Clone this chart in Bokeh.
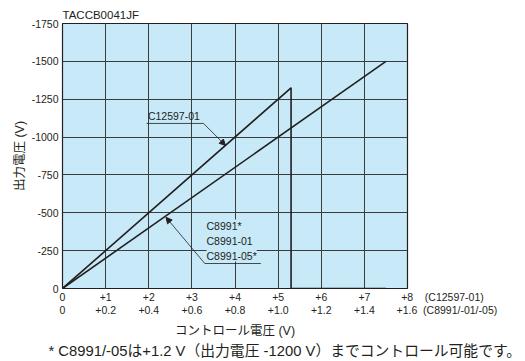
from bokeh.plotting import figure
from bokeh.models import Range1d, FixedTicker, Arrow, NormalHead, Title
from bokeh.core.properties import value
from bokeh.embed import file_html
from bokeh.resources import INLINE

# ---- data ----
c12597_x = [0, 5.3, 5.3, 7.5]
c12597_y = [0, -1325, 0, 0]
c8991_x = [0, 7.5]
c8991_y = [0, -1500]

x_ticks = [0, 1, 2, 3, 4, 5, 6, 7, 8]
x_labels_c12597 = ["0", "+1", "+2", "+3", "+4", "+5", "+6", "+7", "+8"]
x_labels_c8991 = ["0", "+0.2", "+0.4", "+0.6", "+0.8", "+1.0", "+1.2", "+1.4", "+1.6"]
x_row_names = ["(C12597-01)", "(C8991/-01/-05)"]
y_ticks = [0, -250, -500, -750, -1000, -1250, -1500, -1750]
y_labels = ["0", "-250", "-500", "-750", "-1000", "-1250", "-1500", "-1750"]

# annotation anchors (data coords)
c12597_label = "C12597-01"
c12597_label_xy = (1.98, -1100)
c12597_under_x = [1.95, 3.27]
c12597_under_y = [-1090, -1090]
c12597_tip = (3.78, -945)

c8991_label = "C8991*\nC8991-01\nC8991-05*"
c8991_label_xy = (3.34, -178)
c8991_under_x = [3.30, 4.60]
c8991_under_y = [-165, -165]
c8991_tip = (2.40, -470)

TXT = "#231f20"
BG = "#c7e9f8"
LATIN = "Liberation Sans"
MIXED = "'Liberation Sans', 'Noto Sans CJK JP'"
NB = "\u00a0"

p = figure(frame_width=345, frame_height=265,
           x_range=Range1d(0, 8), y_range=Range1d(0, -1750),
           output_backend="svg", toolbar_location=None,
           min_border_left=62, min_border_right=118,
           min_border_top=23, min_border_bottom=73)

p.background_fill_color = BG
p.border_fill_color = "white"
p.outline_line_color = "#231f20"
p.outline_line_width = 1.2

p.title.text = "TACCB0041JF"
p.title.text_font = LATIN
p.title.text_font_size = "11.5px"
p.title.text_font_style = "normal"
p.title.text_color = TXT
p.title.offset = 0
p.title.standoff = 5

# grid
p.xgrid.ticker = FixedTicker(ticks=x_ticks)
p.ygrid.ticker = FixedTicker(ticks=y_ticks)
for g in (p.xgrid, p.ygrid):
    g.grid_line_color = "#3c3c3c"
    g.grid_line_width = 1
    g.grid_line_alpha = 1

# x tick labels: two rows; the last tick also carries the row names
overrides = {}
for t, a, b in zip(x_ticks, x_labels_c12597, x_labels_c8991):
    overrides[t] = f"{a}\n{b}"
last = x_ticks[-1]
suf1 = NB * 4 + x_row_names[0]
suf2 = NB * 2 + x_row_names[1]
overrides[last] = (NB * 24 + x_labels_c12597[-1] + suf1 + "\n" +
                   NB * 27 + x_labels_c8991[-1] + suf2)

xa = p.xaxis[0]
xa.ticker = FixedTicker(ticks=x_ticks)
xa.major_label_overrides = overrides
xa.axis_label = "コントロール電圧 (V)"
xa.axis_label_text_font = MIXED
xa.axis_label_text_font_size = "12.5px"
xa.axis_label_text_font_style = "normal"
xa.axis_label_text_color = TXT
xa.axis_label_standoff = 5

ya = p.yaxis[0]
ya.ticker = FixedTicker(ticks=y_ticks)
ya.major_label_overrides = {t: l for t, l in zip(y_ticks, y_labels)}
ya.axis_label = "出力電圧 (V)"
ya.axis_label_text_font = MIXED
ya.axis_label_text_font_size = "12.5px"
ya.axis_label_text_font_style = "normal"
ya.axis_label_text_color = TXT
ya.axis_label_standoff = 2

for ax in (xa, ya):
    ax.axis_line_color = None
    ax.major_tick_out = 0
    ax.major_tick_in = 0
    ax.minor_tick_out = 0
    ax.minor_tick_in = 0
    ax.major_label_text_font = LATIN
    ax.major_label_text_font_size = "10.5px"
    ax.major_label_text_color = TXT
    ax.major_label_standoff = 4
xa.major_label_standoff = 2
xa.major_label_text_line_height = 1.12

# series
p.line(c8991_x, c8991_y, line_color="#231f20", line_width=1.6)
p.line(c12597_x, c12597_y, line_color="#231f20", line_width=1.6)

# annotations
p.text(x=[c12597_label_xy[0]], y=[c12597_label_xy[1]], text=[c12597_label],
       text_font=value(LATIN), text_font_size="10.5px", text_color=TXT,
       text_baseline="bottom", text_align="left")
p.line(c12597_under_x, c12597_under_y, line_color=TXT, line_width=0.8)
p.add_layout(Arrow(end=NormalHead(size=6, fill_color=TXT, line_color=TXT),
                   x_start=c12597_under_x[1], y_start=c12597_under_y[1],
                   x_end=c12597_tip[0], y_end=c12597_tip[1],
                   line_color=TXT, line_width=0.8))

p.text(x=[c8991_label_xy[0]], y=[c8991_label_xy[1]], text=[c8991_label],
       text_font=value(LATIN), text_font_size="10.5px", text_color=TXT,
       text_baseline="bottom", text_align="left", text_line_height=1.25,
       background_fill_color=BG)
p.line(c8991_under_x, c8991_under_y, line_color=TXT, line_width=0.8)
p.add_layout(Arrow(end=NormalHead(size=6, fill_color=TXT, line_color=TXT),
                   x_start=c8991_under_x[0], y_start=c8991_under_y[0],
                   x_end=c8991_tip[0], y_end=c8991_tip[1],
                   line_color=TXT, line_width=0.8))

# footnote
foot = Title(text="* C8991/-05は+1.2 V（出力電圧 -1200 V）までコントロール可能です。",
             align="left", offset=-14, standoff=0,
             text_font=MIXED, text_font_size="14.8px", text_font_style="normal",
             text_color=TXT)
p.add_layout(foot, "below")

open("out.html", "w").write(file_html(p, INLINE))
